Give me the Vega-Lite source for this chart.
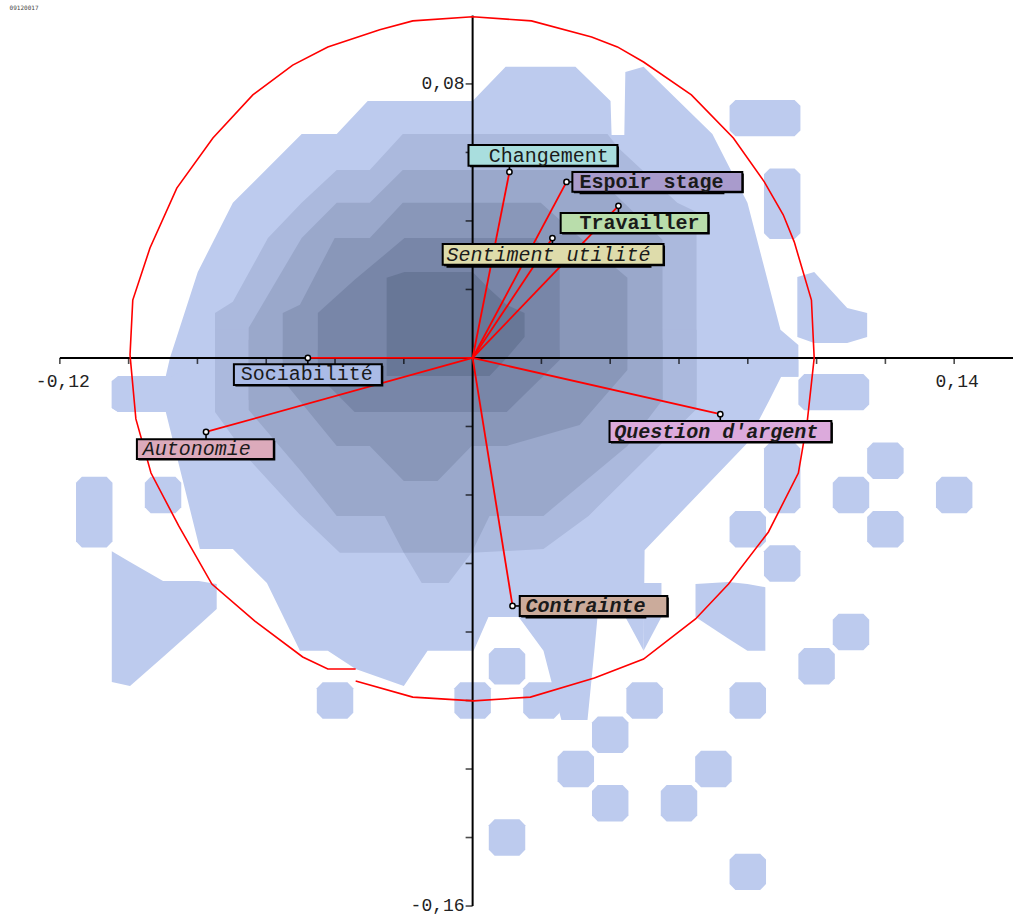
{"$schema":"https://vega.github.io/schema/vega-lite/v6.json",
"width":1014,"height":917,"autosize":{"type":"fit","contains":"padding"},"padding":0,"background":"white",
"config":{"view":{"stroke":null}},
"datasets":{
"dens":[
{"l":1,"p":"m1","x":-0.1049,"t":-0.0067,"b":-0.0146},{"l":1,"p":"m1","x":-0.1031,"t":-0.0053,"b":-0.0158},{"l":1,"p":"m1","x":-0.0892,"t":-0.0053,"b":-0.0158},{"l":1,"p":"m1","x":-0.0880,"t":0,"b":-0.0123},{"l":1,"p":"m1","x":-0.0799,"t":0.0251,"b":-0.0123},{"l":1,"p":"m1","x":-0.0697,"t":0.0453,"b":-0.0123},{"l":1,"p":"m1","x":-0.0497,"t":0.0654,"b":-0.0123},{"l":1,"p":"m1","x":-0.0395,"t":0.0654,"b":-0.0123},{"l":1,"p":"m1","x":-0.0305,"t":0.0750,"b":-0.0123},{"l":1,"p":"m1","x":0,"t":0.0750,"b":-0.0123},{"l":1,"p":"m1","x":0.0096,"t":0.0850,"b":-0.0123},{"l":1,"p":"m1","x":0.0299,"t":0.0850,"b":-0.0123},{"l":1,"p":"m1","x":0.0401,"t":0.0750,"b":-0.0123},{"l":1,"p":"m1","x":0.0404,"t":0.0651,"b":-0.0123},{"l":1,"p":"m1","x":0.0441,"t":0.0651,"b":-0.0123},{"l":1,"p":"m1","x":0.0444,"t":0.0835,"b":-0.0123},{"l":1,"p":"m1","x":0.0497,"t":0.0850,"b":-0.0123},{"l":1,"p":"m1","x":0.0697,"t":0.0654,"b":-0.0123},{"l":1,"p":"m1","x":0.0799,"t":0.0453,"b":-0.0123},{"l":1,"p":"m1","x":0.0895,"t":0.0082,"b":-0.0055},{"l":1,"p":"m1","x":0.0947,"t":0.0038,"b":-0.0055},
{"l":1,"p":"m2","x":-0.1049,"t":-0.0067,"b":-0.0146},{"l":1,"p":"m2","x":-0.1031,"t":-0.0064,"b":-0.0158},{"l":1,"p":"m2","x":-0.0892,"t":-0.0064,"b":-0.0158},{"l":1,"p":"m2","x":-0.0793,"t":-0.0006,"b":-0.0558},{"l":1,"p":"m2","x":-0.0697,"t":-0.0006,"b":-0.0558},{"l":1,"p":"m2","x":-0.0598,"t":-0.0006,"b":-0.0657},{"l":1,"p":"m2","x":-0.0502,"t":-0.0006,"b":-0.0855},{"l":1,"p":"m2","x":-0.0421,"t":-0.0006,"b":-0.0855},{"l":1,"p":"m2","x":-0.0340,"t":-0.0006,"b":-0.0908},{"l":1,"p":"m2","x":-0.0200,"t":-0.0006,"b":-0.0958},{"l":1,"p":"m2","x":-0.0131,"t":-0.0006,"b":-0.0855},{"l":1,"p":"m2","x":0.0003,"t":-0.0006,"b":-0.0855},{"l":1,"p":"m2","x":0.0046,"t":-0.0006,"b":-0.0756},{"l":1,"p":"m2","x":0.0134,"t":-0.0006,"b":-0.0756},{"l":1,"p":"m2","x":0.0206,"t":-0.0006,"b":-0.0855},{"l":1,"p":"m2","x":0.0258,"t":-0.0006,"b":-0.1057},{"l":1,"p":"m2","x":0.0334,"t":-0.0006,"b":-0.1057},{"l":1,"p":"m2","x":0.0354,"t":-0.0006,"b":-0.0855},{"l":1,"p":"m2","x":0.0363,"t":-0.0006,"b":-0.0756},{"l":1,"p":"m2","x":0.0444,"t":-0.0006,"b":-0.0756},{"l":1,"p":"m2","x":0.0497,"t":-0.0006,"b":-0.0855},{"l":1,"p":"m2","x":0.0500,"t":-0.0006,"b":-0.0561},{"l":1,"p":"m2","x":0.0796,"t":-0.0006,"b":-0.0251},{"l":1,"p":"m2","x":0.0863,"t":-0.0006,"b":-0.0123},{"l":1,"p":"m2","x":0.0897,"t":-0.0006,"b":-0.0055},{"l":1,"p":"m2","x":0.0947,"t":-0.0006,"b":-0.0055},
{"l":1,"p":"f","x":0.0497,"t":-0.0657,"b":-0.0855},{"l":1,"p":"f","x":0.0549,"t":-0.0657,"b":-0.0756},
{"l":1,"p":"ll","x":-0.1049,"t":-0.0564,"b":-0.0946},{"l":1,"p":"ll","x":-0.0996,"t":-0.0596,"b":-0.0958},{"l":1,"p":"ll","x":-0.0900,"t":-0.0651,"b":-0.0873},{"l":1,"p":"ll","x":-0.0796,"t":-0.0651,"b":-0.0780},{"l":1,"p":"ll","x":-0.0744,"t":-0.0660,"b":-0.0733},
{"l":1,"p":"rb","x":0.0944,"t":0.0236,"b":0.0061},{"l":1,"p":"rb","x":0.0993,"t":0.0251,"b":0.0044},{"l":1,"p":"rb","x":0.1089,"t":0.0146,"b":0.0044},{"l":1,"p":"rb","x":0.1147,"t":0.0131,"b":0.0061},
{"l":1,"p":"rl","x":0.0648,"t":-0.0660,"b":-0.0756},{"l":1,"p":"rl","x":0.0744,"t":-0.0654,"b":-0.0820},{"l":1,"p":"rl","x":0.0799,"t":-0.0660,"b":-0.0855},{"l":1,"p":"rl","x":0.0851,"t":-0.0669,"b":-0.0855},
{"l":1,"p":"b1","x":0.0747,"t":0.0736,"b":0.0664},{"l":1,"p":"b1","x":0.0764,"t":0.0753,"b":0.0647},{"l":1,"p":"b1","x":0.0936,"t":0.0753,"b":0.0647},{"l":1,"p":"b1","x":0.0953,"t":0.0736,"b":0.0664},
{"l":1,"p":"b2","x":0.0847,"t":0.0536,"b":0.0364},{"l":1,"p":"b2","x":0.0864,"t":0.0553,"b":0.0347},{"l":1,"p":"b2","x":0.0936,"t":0.0553,"b":0.0347},{"l":1,"p":"b2","x":0.0953,"t":0.0536,"b":0.0364},
{"l":1,"p":"b4","x":0.0947,"t":-0.0064,"b":-0.0136},{"l":1,"p":"b4","x":0.0964,"t":-0.0047,"b":-0.0153},{"l":1,"p":"b4","x":0.1136,"t":-0.0047,"b":-0.0153},{"l":1,"p":"b4","x":0.1153,"t":-0.0064,"b":-0.0136},
{"l":1,"p":"b5","x":0.0847,"t":-0.0264,"b":-0.0436},{"l":1,"p":"b5","x":0.0864,"t":-0.0247,"b":-0.0453},{"l":1,"p":"b5","x":0.0936,"t":-0.0247,"b":-0.0453},{"l":1,"p":"b5","x":0.0953,"t":-0.0264,"b":-0.0436},
{"l":1,"p":"b6","x":0.1147,"t":-0.0264,"b":-0.0336},{"l":1,"p":"b6","x":0.1164,"t":-0.0247,"b":-0.0353},{"l":1,"p":"b6","x":0.1236,"t":-0.0247,"b":-0.0353},{"l":1,"p":"b6","x":0.1253,"t":-0.0264,"b":-0.0336},
{"l":1,"p":"b7","x":0.1047,"t":-0.0364,"b":-0.0436},{"l":1,"p":"b7","x":0.1064,"t":-0.0347,"b":-0.0453},{"l":1,"p":"b7","x":0.1136,"t":-0.0347,"b":-0.0453},{"l":1,"p":"b7","x":0.1153,"t":-0.0364,"b":-0.0436},
{"l":1,"p":"b8","x":0.1347,"t":-0.0364,"b":-0.0436},{"l":1,"p":"b8","x":0.1364,"t":-0.0347,"b":-0.0453},{"l":1,"p":"b8","x":0.1436,"t":-0.0347,"b":-0.0453},{"l":1,"p":"b8","x":0.1453,"t":-0.0364,"b":-0.0436},
{"l":1,"p":"b9","x":0.1147,"t":-0.0464,"b":-0.0536},{"l":1,"p":"b9","x":0.1164,"t":-0.0447,"b":-0.0553},{"l":1,"p":"b9","x":0.1236,"t":-0.0447,"b":-0.0553},{"l":1,"p":"b9","x":0.1253,"t":-0.0464,"b":-0.0536},
{"l":1,"p":"b10","x":0.0747,"t":-0.0464,"b":-0.0536},{"l":1,"p":"b10","x":0.0764,"t":-0.0447,"b":-0.0553},{"l":1,"p":"b10","x":0.0836,"t":-0.0447,"b":-0.0553},{"l":1,"p":"b10","x":0.0853,"t":-0.0464,"b":-0.0536},
{"l":1,"p":"b11","x":0.0847,"t":-0.0564,"b":-0.0636},{"l":1,"p":"b11","x":0.0864,"t":-0.0547,"b":-0.0653},{"l":1,"p":"b11","x":0.0936,"t":-0.0547,"b":-0.0653},{"l":1,"p":"b11","x":0.0953,"t":-0.0564,"b":-0.0636},
{"l":1,"p":"b12","x":0.1047,"t":-0.0764,"b":-0.0836},{"l":1,"p":"b12","x":0.1064,"t":-0.0747,"b":-0.0853},{"l":1,"p":"b12","x":0.1136,"t":-0.0747,"b":-0.0853},{"l":1,"p":"b12","x":0.1153,"t":-0.0764,"b":-0.0836},
{"l":1,"p":"b13","x":0.0947,"t":-0.0864,"b":-0.0936},{"l":1,"p":"b13","x":0.0964,"t":-0.0847,"b":-0.0953},{"l":1,"p":"b13","x":0.1036,"t":-0.0847,"b":-0.0953},{"l":1,"p":"b13","x":0.1053,"t":-0.0864,"b":-0.0936},
{"l":1,"p":"b14","x":0.0747,"t":-0.0964,"b":-0.1036},{"l":1,"p":"b14","x":0.0764,"t":-0.0947,"b":-0.1053},{"l":1,"p":"b14","x":0.0836,"t":-0.0947,"b":-0.1053},{"l":1,"p":"b14","x":0.0853,"t":-0.0964,"b":-0.1036},
{"l":1,"p":"b15","x":0.0447,"t":-0.0964,"b":-0.1036},{"l":1,"p":"b15","x":0.0464,"t":-0.0947,"b":-0.1053},{"l":1,"p":"b15","x":0.0536,"t":-0.0947,"b":-0.1053},{"l":1,"p":"b15","x":0.0553,"t":-0.0964,"b":-0.1036},
{"l":1,"p":"b16","x":0.0347,"t":-0.1064,"b":-0.1136},{"l":1,"p":"b16","x":0.0364,"t":-0.1047,"b":-0.1153},{"l":1,"p":"b16","x":0.0436,"t":-0.1047,"b":-0.1153},{"l":1,"p":"b16","x":0.0453,"t":-0.1064,"b":-0.1136},
{"l":1,"p":"b17","x":0.0247,"t":-0.1164,"b":-0.1236},{"l":1,"p":"b17","x":0.0264,"t":-0.1147,"b":-0.1253},{"l":1,"p":"b17","x":0.0336,"t":-0.1147,"b":-0.1253},{"l":1,"p":"b17","x":0.0353,"t":-0.1164,"b":-0.1236},
{"l":1,"p":"b18","x":0.0647,"t":-0.1164,"b":-0.1236},{"l":1,"p":"b18","x":0.0664,"t":-0.1147,"b":-0.1253},{"l":1,"p":"b18","x":0.0736,"t":-0.1147,"b":-0.1253},{"l":1,"p":"b18","x":0.0753,"t":-0.1164,"b":-0.1236},
{"l":1,"p":"b19","x":0.0347,"t":-0.1264,"b":-0.1336},{"l":1,"p":"b19","x":0.0364,"t":-0.1247,"b":-0.1353},{"l":1,"p":"b19","x":0.0436,"t":-0.1247,"b":-0.1353},{"l":1,"p":"b19","x":0.0453,"t":-0.1264,"b":-0.1336},
{"l":1,"p":"b20","x":0.0547,"t":-0.1264,"b":-0.1336},{"l":1,"p":"b20","x":0.0564,"t":-0.1247,"b":-0.1353},{"l":1,"p":"b20","x":0.0636,"t":-0.1247,"b":-0.1353},{"l":1,"p":"b20","x":0.0653,"t":-0.1264,"b":-0.1336},
{"l":1,"p":"b21","x":0.0047,"t":-0.1364,"b":-0.1436},{"l":1,"p":"b21","x":0.0064,"t":-0.1347,"b":-0.1453},{"l":1,"p":"b21","x":0.0136,"t":-0.1347,"b":-0.1453},{"l":1,"p":"b21","x":0.0153,"t":-0.1364,"b":-0.1436},
{"l":1,"p":"b22","x":0.0747,"t":-0.1464,"b":-0.1536},{"l":1,"p":"b22","x":0.0764,"t":-0.1447,"b":-0.1553},{"l":1,"p":"b22","x":0.0836,"t":-0.1447,"b":-0.1553},{"l":1,"p":"b22","x":0.0853,"t":-0.1464,"b":-0.1536},
{"l":1,"p":"b23","x":0.0047,"t":-0.0864,"b":-0.0936},{"l":1,"p":"b23","x":0.0064,"t":-0.0847,"b":-0.0953},{"l":1,"p":"b23","x":0.0136,"t":-0.0847,"b":-0.0953},{"l":1,"p":"b23","x":0.0153,"t":-0.0864,"b":-0.0936},
{"l":1,"p":"b24","x":-0.0053,"t":-0.0964,"b":-0.1036},{"l":1,"p":"b24","x":-0.0036,"t":-0.0947,"b":-0.1053},{"l":1,"p":"b24","x":0.0036,"t":-0.0947,"b":-0.1053},{"l":1,"p":"b24","x":0.0053,"t":-0.0964,"b":-0.1036},
{"l":1,"p":"b25","x":-0.0453,"t":-0.0964,"b":-0.1036},{"l":1,"p":"b25","x":-0.0436,"t":-0.0947,"b":-0.1053},{"l":1,"p":"b25","x":-0.0364,"t":-0.0947,"b":-0.1053},{"l":1,"p":"b25","x":-0.0347,"t":-0.0964,"b":-0.1036},
{"l":1,"p":"b26","x":0.0147,"t":-0.0964,"b":-0.1036},{"l":1,"p":"b26","x":0.0164,"t":-0.0947,"b":-0.1053},{"l":1,"p":"b26","x":0.0236,"t":-0.0947,"b":-0.1053},{"l":1,"p":"b26","x":0.0253,"t":-0.0964,"b":-0.1036},
{"l":1,"p":"b27","x":-0.1153,"t":-0.0364,"b":-0.0536},{"l":1,"p":"b27","x":-0.1136,"t":-0.0347,"b":-0.0553},{"l":1,"p":"b27","x":-0.1064,"t":-0.0347,"b":-0.0553},{"l":1,"p":"b27","x":-0.1047,"t":-0.0364,"b":-0.0536},
{"l":1,"p":"b28","x":-0.0953,"t":-0.0364,"b":-0.0436},{"l":1,"p":"b28","x":-0.0936,"t":-0.0347,"b":-0.0453},{"l":1,"p":"b28","x":-0.0864,"t":-0.0347,"b":-0.0453},{"l":1,"p":"b28","x":-0.0847,"t":-0.0364,"b":-0.0436},
{"l":2,"p":"a","x":-0.0749,"t":0.0131,"b":-0.0123},{"l":2,"p":"a","x":-0.0697,"t":0.0164,"b":-0.0123},{"l":2,"p":"a","x":-0.0595,"t":0.0350,"b":-0.0123},{"l":2,"p":"a","x":-0.0497,"t":0.0453,"b":-0.0123},{"l":2,"p":"a","x":-0.0395,"t":0.0549,"b":-0.0123},{"l":2,"p":"a","x":-0.0299,"t":0.0549,"b":-0.0123},{"l":2,"p":"a","x":-0.0203,"t":0.0654,"b":-0.0123},{"l":2,"p":"a","x":0.0392,"t":0.0654,"b":-0.0123},{"l":2,"p":"a","x":0.0424,"t":0.0613,"b":-0.0123},{"l":2,"p":"a","x":0.0595,"t":0.0453,"b":-0.0123},{"l":2,"p":"a","x":0.0651,"t":0.0426,"b":-0.0123},
{"l":2,"p":"b","x":-0.0749,"t":0.0082,"b":-0.0158},{"l":2,"p":"b","x":-0.0648,"t":0.0082,"b":-0.0298},{"l":2,"p":"b","x":-0.0502,"t":0.0082,"b":-0.0458},{"l":2,"p":"b","x":-0.0386,"t":0.0082,"b":-0.0569},{"l":2,"p":"b","x":-0.0200,"t":0.0082,"b":-0.0569},{"l":2,"p":"b","x":-0.0148,"t":0.0082,"b":-0.0657},{"l":2,"p":"b","x":-0.0070,"t":0.0082,"b":-0.0657},{"l":2,"p":"b","x":-0.0003,"t":0.0082,"b":-0.0569},{"l":2,"p":"b","x":0.0206,"t":0.0082,"b":-0.0558},{"l":2,"p":"b","x":0.0337,"t":0.0082,"b":-0.0461},{"l":2,"p":"b","x":0.0651,"t":0.0082,"b":-0.0149},
{"l":3,"p":"a","x":-0.0651,"t":0.0088,"b":-0.0123},{"l":3,"p":"a","x":-0.0552,"t":0.0257,"b":-0.0123},{"l":3,"p":"a","x":-0.0497,"t":0.0350,"b":-0.0123},{"l":3,"p":"a","x":-0.0395,"t":0.0453,"b":-0.0123},{"l":3,"p":"a","x":-0.0299,"t":0.0453,"b":-0.0123},{"l":3,"p":"a","x":-0.0203,"t":0.0549,"b":-0.0123},{"l":3,"p":"a","x":0.0340,"t":0.0549,"b":-0.0123},{"l":3,"p":"a","x":0.0552,"t":0.0345,"b":-0.0123},
{"l":3,"p":"b","x":-0.0651,"t":0.0053,"b":-0.0152},{"l":3,"p":"b","x":-0.0502,"t":0.0053,"b":-0.0327},{"l":3,"p":"b","x":-0.0395,"t":0.0053,"b":-0.0461},{"l":3,"p":"b","x":-0.0256,"t":0.0053,"b":-0.0461},{"l":3,"p":"b","x":-0.0200,"t":0.0053,"b":-0.0569},{"l":3,"p":"b","x":-0.0003,"t":0.0053,"b":-0.0569},{"l":3,"p":"b","x":0.0049,"t":0.0053,"b":-0.0461},{"l":3,"p":"b","x":0.0206,"t":0.0053,"b":-0.0461},{"l":3,"p":"b","x":0.0450,"t":0.0053,"b":-0.0257},{"l":3,"p":"b","x":0.0552,"t":0.0053,"b":-0.0123},
{"l":4,"p":"a","x":-0.0552,"t":0.0131,"b":-0.0006},{"l":4,"p":"a","x":-0.0502,"t":0.0155,"b":-0.0006},{"l":4,"p":"a","x":-0.0401,"t":0.0350,"b":-0.0006},{"l":4,"p":"a","x":-0.0299,"t":0.0350,"b":-0.0006},{"l":4,"p":"a","x":-0.0203,"t":0.0453,"b":-0.0006},{"l":4,"p":"a","x":0.0198,"t":0.0453,"b":-0.0006},{"l":4,"p":"a","x":0.0293,"t":0.0368,"b":-0.0006},{"l":4,"p":"a","x":0.0450,"t":0.0234,"b":-0.0006},
{"l":4,"p":"b","x":-0.0552,"t":0.0023,"b":-0.0064},{"l":4,"p":"b","x":-0.0395,"t":0.0023,"b":-0.0257},{"l":4,"p":"b","x":-0.0299,"t":0.0023,"b":-0.0257},{"l":4,"p":"b","x":-0.0200,"t":0.0023,"b":-0.0359},{"l":4,"p":"b","x":-0.0102,"t":0.0023,"b":-0.0359},{"l":4,"p":"b","x":-0.0003,"t":0.0023,"b":-0.0257},{"l":4,"p":"b","x":0.0099,"t":0.0023,"b":-0.0257},{"l":4,"p":"b","x":0.0311,"t":0.0023,"b":-0.0196},{"l":4,"p":"b","x":0.0450,"t":0.0023,"b":-0.0035},
{"l":5,"p":"a","x":-0.0450,"t":0.0131,"b":-0.0006},{"l":5,"p":"a","x":-0.0343,"t":0.0228,"b":-0.0006},{"l":5,"p":"a","x":-0.0198,"t":0.0350,"b":-0.0006},{"l":5,"p":"a","x":0.0180,"t":0.0350,"b":-0.0006},{"l":5,"p":"a","x":0.0253,"t":0.0280,"b":-0.0006},
{"l":5,"p":"b","x":-0.0450,"t":0.0023,"b":-0.0050},{"l":5,"p":"b","x":-0.0343,"t":0.0023,"b":-0.0158},{"l":5,"p":"b","x":0.0099,"t":0.0023,"b":-0.0158},{"l":5,"p":"b","x":0.0253,"t":0.0023,"b":-0.0006},
{"l":6,"p":"a","x":-0.0250,"t":0.0234,"b":-0.0053},{"l":6,"p":"a","x":-0.0198,"t":0.0251,"b":-0.0053},{"l":6,"p":"a","x":0,"t":0.0251,"b":-0.0053},{"l":6,"p":"a","x":0.0049,"t":0.0201,"b":-0.0053},{"l":6,"p":"a","x":0.0099,"t":0.0155,"b":0},{"l":6,"p":"a","x":0.0151,"t":0.0131,"b":0.0061}
],
"circ":[
{"i":0,"x":-0.0340,"y":-0.0908},{"i":1,"x":-0.0421,"y":-0.0908},{"i":2,"x":-0.0494,"y":-0.0873},{"i":3,"x":-0.0633,"y":-0.0768},{"i":4,"x":-0.0758,"y":-0.0660},{"i":5,"x":-0.0854,"y":-0.0491},{"i":6,"x":-0.0935,"y":-0.0336},{"i":7,"x":-0.0979,"y":-0.0178},{"i":8,"x":-0.0996,"y":0.0009},{"i":9,"x":-0.0988,"y":0.0169},{"i":10,"x":-0.0938,"y":0.0321},{"i":11,"x":-0.0860,"y":0.0496},{"i":12,"x":-0.0755,"y":0.0642},{"i":13,"x":-0.0639,"y":0.0768},{"i":14,"x":-0.0523,"y":0.0855},{"i":15,"x":-0.0421,"y":0.0908},{"i":16,"x":-0.0270,"y":0.0958},{"i":17,"x":-0.0174,"y":0.0984},{"i":18,"x":0,"y":0.0996},{"i":19,"x":0.0171,"y":0.0984},{"i":20,"x":0.0346,"y":0.0937},{"i":21,"x":0.0421,"y":0.0908},{"i":22,"x":0.0497,"y":0.0864},{"i":23,"x":0.0636,"y":0.0768},{"i":24,"x":0.0758,"y":0.0642},{"i":25,"x":0.0848,"y":0.0514},{"i":26,"x":0.0903,"y":0.0418},{"i":27,"x":0.0935,"y":0.0339},{"i":28,"x":0.0985,"y":0.0169},{"i":29,"x":0.0993,"y":0},{"i":30,"x":0.0973,"y":-0.0184},{"i":31,"x":0.0947,"y":-0.0336},{"i":32,"x":0.0860,"y":-0.0508},{"i":33,"x":0.0744,"y":-0.0660},{"i":34,"x":0.0648,"y":-0.0762},{"i":35,"x":0.0497,"y":-0.0879},{"i":36,"x":0.0354,"y":-0.0934},{"i":37,"x":0.0168,"y":-0.0990},{"i":38,"x":0.0003,"y":-0.1001},{"i":39,"x":-0.0174,"y":-0.0990},{"i":40,"x":-0.0340,"y":-0.0943}
],
"lab":[
{"n":"Changement","g":"n","x":0.0107,"y":0.0543,"bx1":-0.0012,"bx2":0.0421,"by1":0.0622,"by2":0.0561,"tx":0.0047,"ty":0.0591,"sx":0.0107,"sy":0.0561},
{"n":"Espoir stage","g":"b","x":0.0273,"y":0.0514,"bx1":0.0290,"bx2":0.0784,"by1":0.0543,"by2":0.0485,"tx":0.0311,"ty":0.0514,"sx":0.0290,"sy":0.0514},
{"n":"Travailler","g":"b","x":0.0424,"y":0.0444,"bx1":0.0256,"bx2":0.0685,"by1":0.0423,"by2":0.0365,"tx":0.0311,"ty":0.0394,"sx":0.0424,"sy":0.0423},
{"n":"Sentiment utilité","g":"i","x":0.0232,"y":0.0350,"bx1":-0.0087,"bx2":0.0555,"by1":0.0333,"by2":0.0272,"tx":-0.0076,"ty":0.0302,"sx":0.0232,"sy":0.0333},
{"n":"Sociabilité","g":"n","x":-0.0479,"y":0,"bx1":-0.0694,"bx2":-0.0264,"by1":-0.0018,"by2":-0.0079,"tx":-0.0674,"ty":-0.0048,"sx":-0.0479,"sy":-0.0018},
{"n":"Autonomie","g":"i","x":-0.0775,"y":-0.0216,"bx1":-0.0976,"bx2":-0.0578,"by1":-0.0237,"by2":-0.0295,"tx":-0.0959,"ty":-0.0266,"sx":-0.0775,"sy":-0.0237},
{"n":"Contrainte","g":"bi","x":0.0116,"y":-0.0724,"bx1":0.0137,"bx2":0.0566,"by1":-0.0695,"by2":-0.0753,"tx":0.0154,"ty":-0.0724,"sx":0.0137,"sy":-0.0724},
{"n":"Question d'argent","g":"bi","x":0.0720,"y":-0.0164,"bx1":0.0398,"bx2":0.1043,"by1":-0.0184,"by2":-0.0245,"tx":0.0412,"ty":-0.0215,"sx":0.0720,"sy":-0.0184}
],
"ul":[{"x":0.0311,"x2":0.0732,"y":0.0480},{"x":-0.0076,"x2":0.0520,"y":0.0266},{"x":0.0154,"x2":0.0505,"y":-0.0758}],
"ax":[{"x":-0.12,"x2":0.1571,"y":0,"y2":0},{"x":0,"x2":0,"y":-0.16,"y2":0.1}],
"xt":[{"v":-0.12},{"v":-0.1},{"v":-0.08},{"v":-0.06},{"v":-0.04},{"v":-0.02},{"v":0.02},{"v":0.04},{"v":0.06},{"v":0.08},{"v":0.1},{"v":0.12},{"v":0.14}],
"yt":[{"v":0.08},{"v":0.06},{"v":0.04},{"v":0.02},{"v":-0.02},{"v":-0.04},{"v":-0.06},{"v":-0.08},{"v":-0.1},{"v":-0.12},{"v":-0.14},{"v":-0.16}],
"tl":[{"a":"x","x":-0.12,"y":0,"t":"-0,12"},{"a":"x","x":0.14,"y":0,"t":"0,14"},{"a":"y","x":0,"y":0.08,"t":"0,08"},{"a":"y","x":0,"y":-0.16,"t":"-0,16"}],
"misc":[{"x":-0.1304,"y":0.1022,"t":"09120017"}]
},
"layer":[
{"data":{"name":"dens"},"transform":[{"filter":"datum.l==1"}],"mark":{"type":"area","color":"#bdcbee","orient":"vertical"},"encoding":{"x":{"field":"x","type":"quantitative","scale":{"domain":[-0.1374,0.1571],"nice":false,"zero":false},"axis":null},"y":{"field":"t","type":"quantitative","scale":{"domain":[-0.1632,0.1045],"nice":false,"zero":false},"axis":null},"y2":{"field":"b"},"detail":{"field":"p"}}},
{"data":{"name":"dens"},"transform":[{"filter":"datum.l==2"}],"mark":{"type":"area","color":"#abb9dd","orient":"vertical"},"encoding":{"x":{"field":"x","type":"quantitative","scale":{"domain":[-0.1374,0.1571],"nice":false,"zero":false},"axis":null},"y":{"field":"t","type":"quantitative","scale":{"domain":[-0.1632,0.1045],"nice":false,"zero":false},"axis":null},"y2":{"field":"b"},"detail":{"field":"p"}}},
{"data":{"name":"dens"},"transform":[{"filter":"datum.l==3"}],"mark":{"type":"area","color":"#9aa8cb","orient":"vertical"},"encoding":{"x":{"field":"x","type":"quantitative","scale":{"domain":[-0.1374,0.1571],"nice":false,"zero":false},"axis":null},"y":{"field":"t","type":"quantitative","scale":{"domain":[-0.1632,0.1045],"nice":false,"zero":false},"axis":null},"y2":{"field":"b"},"detail":{"field":"p"}}},
{"data":{"name":"dens"},"transform":[{"filter":"datum.l==4"}],"mark":{"type":"area","color":"#8997b9","orient":"vertical"},"encoding":{"x":{"field":"x","type":"quantitative","scale":{"domain":[-0.1374,0.1571],"nice":false,"zero":false},"axis":null},"y":{"field":"t","type":"quantitative","scale":{"domain":[-0.1632,0.1045],"nice":false,"zero":false},"axis":null},"y2":{"field":"b"},"detail":{"field":"p"}}},
{"data":{"name":"dens"},"transform":[{"filter":"datum.l==5"}],"mark":{"type":"area","color":"#7886a8","orient":"vertical"},"encoding":{"x":{"field":"x","type":"quantitative","scale":{"domain":[-0.1374,0.1571],"nice":false,"zero":false},"axis":null},"y":{"field":"t","type":"quantitative","scale":{"domain":[-0.1632,0.1045],"nice":false,"zero":false},"axis":null},"y2":{"field":"b"},"detail":{"field":"p"}}},
{"data":{"name":"dens"},"transform":[{"filter":"datum.l==6"}],"mark":{"type":"area","color":"#687797","orient":"vertical"},"encoding":{"x":{"field":"x","type":"quantitative","scale":{"domain":[-0.1374,0.1571],"nice":false,"zero":false},"axis":null},"y":{"field":"t","type":"quantitative","scale":{"domain":[-0.1632,0.1045],"nice":false,"zero":false},"axis":null},"y2":{"field":"b"},"detail":{"field":"p"}}},
{"data":{"name":"ax"},"mark":{"type":"rule","color":"#000000","strokeWidth":2},"encoding":{"x":{"field":"x","type":"quantitative","scale":{"domain":[-0.1374,0.1571],"nice":false,"zero":false},"axis":null},"x2":{"field":"x2"},"y":{"field":"y","type":"quantitative","scale":{"domain":[-0.1632,0.1045],"nice":false,"zero":false},"axis":null},"y2":{"field":"y2"}}},
{"data":{"name":"xt"},"mark":{"type":"tick","orient":"vertical","size":6,"thickness":1.6,"yOffset":3,"color":"#000000"},"encoding":{"x":{"field":"v","type":"quantitative","scale":{"domain":[-0.1374,0.1571],"nice":false,"zero":false},"axis":null},"y":{"datum":0,"type":"quantitative","scale":{"domain":[-0.1632,0.1045],"nice":false,"zero":false},"axis":null}}},
{"data":{"name":"yt"},"mark":{"type":"tick","orient":"horizontal","size":7,"thickness":1.6,"xOffset":-3.5,"color":"#000000"},"encoding":{"y":{"field":"v","type":"quantitative","scale":{"domain":[-0.1632,0.1045],"nice":false,"zero":false},"axis":null},"x":{"datum":0,"type":"quantitative","scale":{"domain":[-0.1374,0.1571],"nice":false,"zero":false},"axis":null}}},
{"data":{"name":"tl"},"transform":[{"filter":"datum.a=='x'"}],"mark":{"type":"text","font":"Liberation Mono","fontSize":18,"align":"center","baseline":"middle","dy":24,"dx":3,"color":"#222222"},"encoding":{"x":{"field":"x","type":"quantitative","scale":{"domain":[-0.1374,0.1571],"nice":false,"zero":false},"axis":null},"y":{"field":"y","type":"quantitative","scale":{"domain":[-0.1632,0.1045],"nice":false,"zero":false},"axis":null},"text":{"field":"t"}}},
{"data":{"name":"tl"},"transform":[{"filter":"datum.a=='y'"}],"mark":{"type":"text","font":"Liberation Mono","fontSize":18,"align":"right","baseline":"middle","dx":-8,"color":"#222222"},"encoding":{"x":{"field":"x","type":"quantitative","scale":{"domain":[-0.1374,0.1571],"nice":false,"zero":false},"axis":null},"y":{"field":"y","type":"quantitative","scale":{"domain":[-0.1632,0.1045],"nice":false,"zero":false},"axis":null},"text":{"field":"t"}}},
{"data":{"name":"circ"},"mark":{"type":"line","color":"#ff0000","strokeWidth":1.6},"encoding":{"x":{"field":"x","type":"quantitative","scale":{"domain":[-0.1374,0.1571],"nice":false,"zero":false},"axis":null},"y":{"field":"y","type":"quantitative","scale":{"domain":[-0.1632,0.1045],"nice":false,"zero":false},"axis":null},"order":{"field":"i","type":"quantitative"}}},
{"data":{"name":"lab"},"mark":{"type":"rule","color":"#ff0000","strokeWidth":1.8},"encoding":{"x":{"field":"x","type":"quantitative","scale":{"domain":[-0.1374,0.1571],"nice":false,"zero":false},"axis":null},"y":{"field":"y","type":"quantitative","scale":{"domain":[-0.1632,0.1045],"nice":false,"zero":false},"axis":null},"x2":{"datum":0},"y2":{"datum":0}}},
{"data":{"name":"lab"},"mark":{"type":"rule","color":"#000000","strokeWidth":1.6},"encoding":{"x":{"field":"x","type":"quantitative","scale":{"domain":[-0.1374,0.1571],"nice":false,"zero":false},"axis":null},"y":{"field":"y","type":"quantitative","scale":{"domain":[-0.1632,0.1045],"nice":false,"zero":false},"axis":null},"x2":{"field":"sx"},"y2":{"field":"sy"}}},
{"data":{"name":"lab"},"mark":{"type":"rect","color":"#000000","xOffset":1.5,"x2Offset":1.5,"yOffset":1.5,"y2Offset":1.5},"encoding":{"x":{"field":"bx1","type":"quantitative","scale":{"domain":[-0.1374,0.1571],"nice":false,"zero":false},"axis":null},"x2":{"field":"bx2"},"y":{"field":"by1","type":"quantitative","scale":{"domain":[-0.1632,0.1045],"nice":false,"zero":false},"axis":null},"y2":{"field":"by2"}}},
{"data":{"name":"lab"},"mark":{"type":"rect","stroke":"#000000","strokeWidth":2},"encoding":{"x":{"field":"bx1","type":"quantitative","scale":{"domain":[-0.1374,0.1571],"nice":false,"zero":false},"axis":null},"x2":{"field":"bx2"},"y":{"field":"by1","type":"quantitative","scale":{"domain":[-0.1632,0.1045],"nice":false,"zero":false},"axis":null},"y2":{"field":"by2"},"fill":{"field":"n","type":"nominal","legend":null,"scale":{"domain":["Changement","Espoir stage","Travailler","Sentiment utilité","Sociabilité","Autonomie","Contrainte","Question d'argent"],"range":["#a9dede","#a99bcc","#b9ddab","#dedcab","#aabbe6","#dcaabb","#cbab9b","#dcaadc"]}}}},
{"data":{"name":"lab"},"transform":[{"filter":"datum.g=='n'"}],"mark":{"type":"text","font":"Liberation Mono","fontSize":20,"align":"left","baseline":"middle","color":"#1a1a1a"},"encoding":{"x":{"field":"tx","type":"quantitative","scale":{"domain":[-0.1374,0.1571],"nice":false,"zero":false},"axis":null},"y":{"field":"ty","type":"quantitative","scale":{"domain":[-0.1632,0.1045],"nice":false,"zero":false},"axis":null},"text":{"field":"n"}}},
{"data":{"name":"lab"},"transform":[{"filter":"datum.g=='b'"}],"mark":{"type":"text","font":"Liberation Mono","fontSize":20,"fontWeight":"bold","align":"left","baseline":"middle","color":"#1a1a1a"},"encoding":{"x":{"field":"tx","type":"quantitative","scale":{"domain":[-0.1374,0.1571],"nice":false,"zero":false},"axis":null},"y":{"field":"ty","type":"quantitative","scale":{"domain":[-0.1632,0.1045],"nice":false,"zero":false},"axis":null},"text":{"field":"n"}}},
{"data":{"name":"lab"},"transform":[{"filter":"datum.g=='i'"}],"mark":{"type":"text","font":"Liberation Mono","fontSize":20,"fontStyle":"italic","align":"left","baseline":"middle","color":"#1a1a1a"},"encoding":{"x":{"field":"tx","type":"quantitative","scale":{"domain":[-0.1374,0.1571],"nice":false,"zero":false},"axis":null},"y":{"field":"ty","type":"quantitative","scale":{"domain":[-0.1632,0.1045],"nice":false,"zero":false},"axis":null},"text":{"field":"n"}}},
{"data":{"name":"lab"},"transform":[{"filter":"datum.g=='bi'"}],"mark":{"type":"text","font":"Liberation Mono","fontSize":20,"fontWeight":"bold","fontStyle":"italic","align":"left","baseline":"middle","color":"#1a1a1a"},"encoding":{"x":{"field":"tx","type":"quantitative","scale":{"domain":[-0.1374,0.1571],"nice":false,"zero":false},"axis":null},"y":{"field":"ty","type":"quantitative","scale":{"domain":[-0.1632,0.1045],"nice":false,"zero":false},"axis":null},"text":{"field":"n"}}},
{"data":{"name":"ul"},"mark":{"type":"rule","color":"#000000","strokeWidth":1.6},"encoding":{"x":{"field":"x","type":"quantitative","scale":{"domain":[-0.1374,0.1571],"nice":false,"zero":false},"axis":null},"x2":{"field":"x2"},"y":{"field":"y","type":"quantitative","scale":{"domain":[-0.1632,0.1045],"nice":false,"zero":false},"axis":null}}},
{"data":{"name":"lab"},"mark":{"type":"point","shape":"circle","filled":false,"fill":"#ffffff","fillOpacity":1,"stroke":"#000000","strokeWidth":1.5,"size":28,"opacity":1},"encoding":{"x":{"field":"x","type":"quantitative","scale":{"domain":[-0.1374,0.1571],"nice":false,"zero":false},"axis":null},"y":{"field":"y","type":"quantitative","scale":{"domain":[-0.1632,0.1045],"nice":false,"zero":false},"axis":null}}},
{"data":{"name":"misc"},"mark":{"type":"text","font":"DejaVu Sans Mono","fontSize":6,"align":"center","baseline":"middle","color":"#444444"},"encoding":{"x":{"field":"x","type":"quantitative","scale":{"domain":[-0.1374,0.1571],"nice":false,"zero":false},"axis":null},"y":{"field":"y","type":"quantitative","scale":{"domain":[-0.1632,0.1045],"nice":false,"zero":false},"axis":null},"text":{"field":"t"}}}
]}
